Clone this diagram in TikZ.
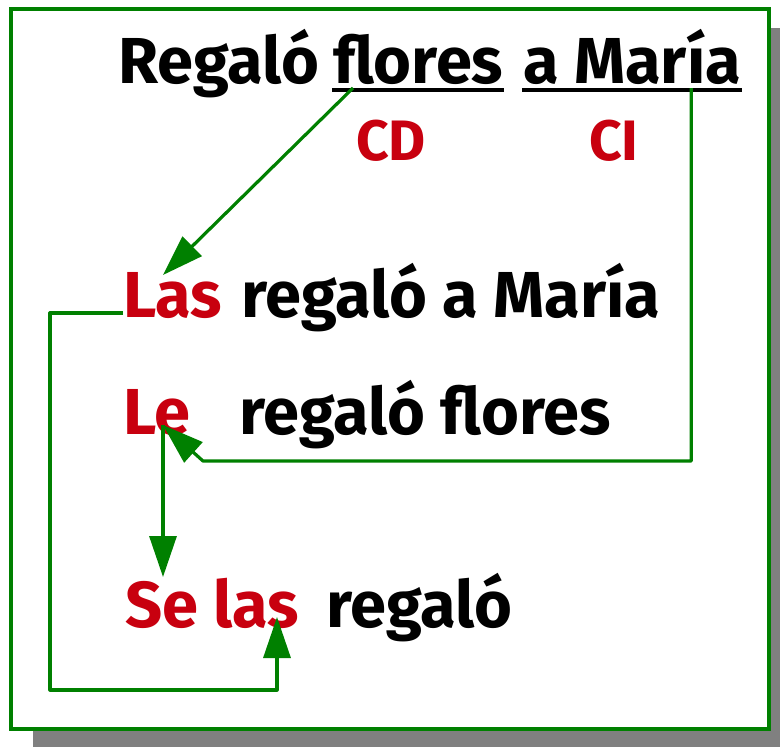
\documentclass[tikz,border=0pt]{standalone}
\usepackage{fontspec}
\setmainfont{Fira Sans}
\usetikzlibrary{arrows.meta,calc}
\definecolor{linkgreen}{RGB}{0,128,0}
\definecolor{wordred}{RGB}{200,0,15}

\begin{document}
\begin{tikzpicture}[
    x=1pt, y=-1pt,
    word/.style={anchor=base west, inner sep=0pt, font=\fontsize{65}{65}\selectfont\bfseries},
    red word/.style={word, text=wordred},
    tag/.style={red word, font=\fontsize{57}{57}\selectfont\bfseries},
    link/.style={draw=linkgreen, line width=3.2pt, line join=round},
    arrow link/.style={link, -{Triangle[length=41pt,width=27pt]}},
    underline/.style={line width=4pt, black}
]
    \useasboundingbox (0,0) rectangle (780,747);

    % Draw the shadow and the frame
    \fill[black!50] (33,28) rectangle (780,747);
    \draw[line width=3.5pt, draw=linkgreen, fill=white] (11,9) rectangle (769,729);

    % Draw the sentence and its objects
    \node[word] (regalo) at (118,83) {Regaló};
    \node[word] (flores) at (333,83) {flores};
    \node[word] (amaria) at (523,83) {a María};
    \draw[underline] ($(flores.base west)+(-1,7)$) -- ($(flores.base east)+(1,7)$);
    \draw[underline] ($(amaria.base west)+(-1,7)$) -- ($(amaria.base east)+(1,7)$);
    \node[tag] (cd) at (356,160) {CD};
    \node[tag] (ci) at (589,160) {CI};

    % Draw the rewritten sentences
    \node[red word] (las) at (123,317) {Las};
    \node[word] (lasrest) at (241,317) {regaló a María};
    \node[red word] (le) at (123,434) {Le};
    \node[word] (lerest) at (239,434) {regaló flores};
    \node[red word] (selas) at (125,627) {Se las};
    \node[word] (serest) at (326,627) {regaló};

    % Points where the connectors start and end
    \coordinate (floresfoot) at ($(flores.base west)+(20,5)$);
    \coordinate (mariafoot) at ($(amaria.base east)+(-50,5)$);
    \coordinate (lastip) at (163,275);
    \coordinate (letip) at (163,425);
    \coordinate (setip) at (163,577);
    \coordinate (lastop) at (277,617);

    % Connect the objects with the pronouns
    \draw[arrow link] (floresfoot) -- (lastip);
    \draw[arrow link] (mariafoot) -- (mariafoot |- 0,461) -- (203,461) -- (letip);
    \draw[arrow link] (letip) -- (setip);
    \draw[arrow link] (las.base west |- 0,313) -- (50,313) -- (50,690) -- (277,690) -- (lastop);
\end{tikzpicture}
\end{document}
